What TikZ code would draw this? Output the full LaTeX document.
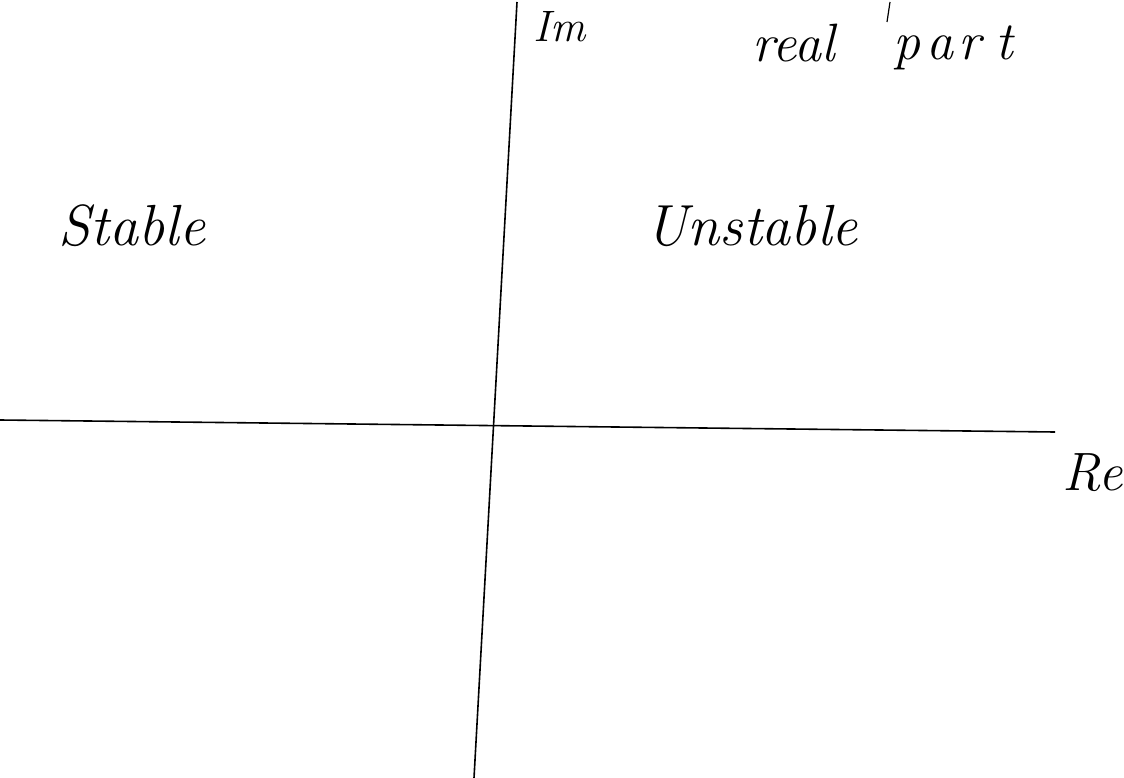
\documentclass[tikz,border=0pt]{standalone}
\usepackage{amsmath,amssymb}
\usepackage{xcolor}
\usepackage{tikz}
\usetikzlibrary{arrows.meta,positioning}

\begin{document}
\begin{tikzpicture}[x=1pt,y=-1pt,line width=1.6pt,
  hand/.style={font=\fontsize{58}{64}\selectfont\itshape,inner sep=0pt,anchor=base west},
  small/.style={font=\fontsize{54}{60}\selectfont\itshape,inner sep=0pt,anchor=base west}]
  \useasboundingbox (0,0) rectangle (1124,778);
  % axes
  \coordinate (ReL) at (0,420);
  \coordinate (ReR) at (1055,432);
  \coordinate (ImT) at (517,2);
  \coordinate (ImB) at (474,778);
  \draw (ReL) -- (ReR);
  \draw (ImT) -- (ImB);
  % labels
  \node[small,font=\fontsize{44}{50}\selectfont\itshape] (im) at (533,42) {Im};
  \node[small] (real) at (752,62) {real};
  \node[small] (part) at (893,60) {p\kern6pt a\kern5pt r\kern14pt t};
  \draw[line width=1.2pt] (890,2) -- (887,22);
  \node[hand] (stab) at (58,245) {Stable};
  \node[hand] (unst) at (645,245) {Unstable};
  \node[hand,font=\fontsize{54}{60}\selectfont\itshape] (re) at (1062,490) {Re};
\end{tikzpicture}
\end{document}
